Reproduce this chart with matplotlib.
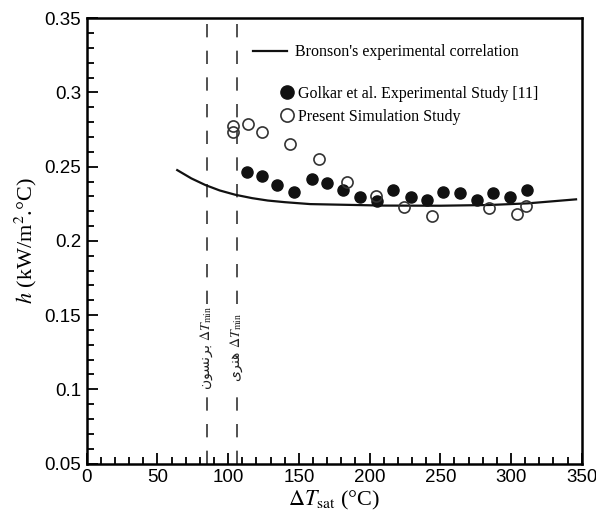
"""Film boiling heat transfer coefficient vs wall superheat."""

import matplotlib
matplotlib.use("Agg")
import matplotlib.pyplot as plt
from matplotlib.lines import Line2D
from matplotlib.ticker import MultipleLocator

plt.rcParams["mathtext.fontset"] = "stix"
plt.rcParams["font.family"] = ["Liberation Serif", "DejaVu Sans"]

# Bronson's experimental correlation
bronson_dt = [64, 74, 84, 94, 105, 117, 128, 140, 158, 210, 250, 285, 312,
              346]
bronson_h = [0.2477, 0.2421, 0.2376, 0.234, 0.2311, 0.2288, 0.2272, 0.2261,
             0.2248, 0.2238, 0.2237, 0.2242, 0.2253, 0.228]

# Golkar et al. experimental study [11]
golkar_dt = [113.1, 123.7, 134.8, 146.8, 159.1, 169.7, 181.0, 193.2, 205.0,
             216.8, 229.1, 240.4, 252.1, 263.9, 275.8, 287.5, 299.3, 311.1]
golkar_h = [0.2464, 0.2437, 0.2376, 0.2327, 0.2415, 0.2392, 0.2343, 0.2298,
            0.2271, 0.2343, 0.2298, 0.2275, 0.2331, 0.2321, 0.2275, 0.2325,
            0.2298, 0.2343]

# present simulation study
sim_dt = [103.4, 103.4, 114.3, 124.2, 143.7, 164.5, 184.3, 204.6, 224.4,
          244.4, 284.7, 304.5, 310.6]
sim_h = [0.2771, 0.2737, 0.2788, 0.2736, 0.2651, 0.2552, 0.2395, 0.2304,
         0.2226, 0.2167, 0.2223, 0.2181, 0.2237]

# minimum film boiling superheat: Bronson and Henry
dt_min = [85, 106]
# Persian names in presentation forms, visual order
dt_min_names = ["\ufee5\ufeee\ufeb4\ufee7\ufeae\ufe91",
                "\ufeef\ufeae\ufee8\ufeeb"]

fig = plt.figure(figsize=(5.96, 5.22), dpi=100)
ax = fig.add_axes([0.1455, 0.112, 0.8305, 0.853])

for x, name in zip(dt_min, dt_min_names):
    ax.axvline(x, color="#333333", lw=1.2, dashes=(8, 8), zorder=1)
    ax.text(x, 0.128, name + r" $\Delta T_{\rm min}$", rotation=90,
            ha="center", va="center", fontsize=10, color="#222222",
            family=["DejaVu Sans"],
            bbox=dict(facecolor="white", edgecolor="none", pad=1.5),
            zorder=2)

ax.plot(bronson_dt, bronson_h, color="#111111", lw=1.6, zorder=3)
ax.plot(golkar_dt, golkar_h, "o", ms=8, color="#111111", zorder=4)
ax.plot(sim_dt, sim_h, "o", ms=8, mfc="none", mec="#333333", mew=1.2,
        zorder=5)

ax.set_xlim(0, 350)
ax.set_ylim(0.05, 0.35)
ax.xaxis.set_major_locator(MultipleLocator(50))
ax.xaxis.set_minor_locator(MultipleLocator(10))
ax.yaxis.set_major_locator(MultipleLocator(0.05))
ax.yaxis.set_minor_locator(MultipleLocator(0.01))
ax.yaxis.set_major_formatter(plt.FuncFormatter(lambda v, _: f"{v:g}"))
ax.tick_params(which="both", direction="in", top=False, right=False,
               width=1.3, labelsize=13.5, labelfontfamily="Liberation Sans",
               pad=4)
ax.tick_params(which="major", length=8)
ax.tick_params(which="minor", length=5)
for sp in ax.spines.values():
    sp.set_linewidth(1.8)

ax.set_xlabel(r"$\Delta T_{\rm sat}$ (°C)", fontsize=16, labelpad=2)
ax.set_ylabel(r"$h$ (kW/m$^2$.°C)", fontsize=16, labelpad=4)

leg1 = ax.legend([Line2D([], [], color="#111111", lw=1.6)],
                 ["Bronson's experimental correlation"],
                 loc="center left", bbox_to_anchor=(0.336, 0.924),
                 frameon=False, fontsize=11.5, borderpad=0, borderaxespad=0,
                 handlelength=2.1, handletextpad=0.5)
ax.add_artist(leg1)
ax.legend([Line2D([], [], ls="none", marker="o", ms=9.5, color="#111111"),
           Line2D([], [], ls="none", marker="o", ms=9.5, mfc="none",
                  mec="#333333", mew=1.2)],
          ["Golkar et al. Experimental Study [11]",
           "Present Simulation Study"],
          loc="center left", bbox_to_anchor=(0.392, 0.805), frameon=False,
          fontsize=11.5, borderpad=0, borderaxespad=0, handlelength=0.8,
          handletextpad=0.3, labelspacing=0.45)

fig.savefig("out.png", dpi=100)
